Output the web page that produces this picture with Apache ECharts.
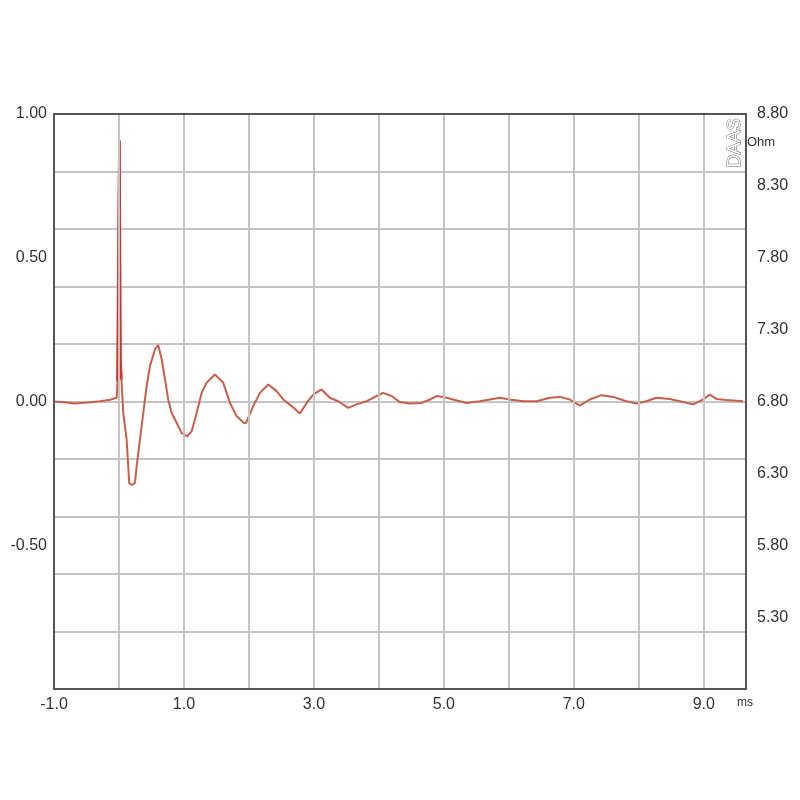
<!DOCTYPE html>
<html>
<head>
<meta charset="utf-8">
<script src="https://cdn.jsdelivr.net/npm/echarts@6/dist/echarts.min.js"></script>
<style>
html,body{margin:0;padding:0;background:#fff;}
#chart{width:800px;height:800px;}
</style>
</head>
<body>
<div id="chart"></div>
<script>
// time in ms
var timeMs = [-1.0,-0.831,-0.677,-0.446,-0.292,-0.138,-0.035,-0.023,0.0,0.008,0.023,0.038,0.066,0.118,0.158,0.2,0.246,0.272,0.323,0.374,0.426,0.477,0.554,0.605,0.657,0.708,0.758,0.811,0.888,0.965,1.051,1.118,1.195,1.272,1.349,1.477,1.605,1.708,1.811,1.923,1.954,2.066,2.169,2.297,2.426,2.528,2.657,2.785,2.888,2.989,3.118,3.246,3.374,3.528,3.657,3.811,3.912,4.066,4.195,4.323,4.477,4.657,4.785,4.888,4.989,5.143,5.349,5.554,5.708,5.862,6.015,6.22,6.426,6.631,6.785,6.938,7.092,7.246,7.426,7.605,7.811,7.965,8.118,8.272,8.477,8.682,8.835,8.989,9.092,9.195,9.349,9.605];
// amplitude
var amplitude = [0.0,-0.003,-0.007,-0.003,0.001,0.006,0.013,0.071,0.78,0.908,0.15,0.077,-0.04,-0.133,-0.285,-0.29,-0.283,-0.226,-0.133,-0.04,0.054,0.123,0.182,0.196,0.147,0.077,0.007,-0.04,-0.075,-0.11,-0.121,-0.104,-0.04,0.03,0.065,0.094,0.065,-0.005,-0.051,-0.075,-0.075,-0.016,0.03,0.059,0.036,0.007,-0.016,-0.042,-0.005,0.024,0.042,0.013,0.001,-0.022,-0.01,0.001,0.013,0.03,0.019,-0.002,-0.007,-0.005,0.007,0.019,0.016,0.007,-0.005,0.001,0.007,0.013,0.007,0.001,0.001,0.013,0.016,0.007,-0.014,0.007,0.022,0.016,0.001,-0.007,0.001,0.013,0.009,-0.002,-0.01,0.007,0.024,0.009,0.005,0.001];
var xTickLabels = ['-1.0','1.0','3.0','5.0','7.0','9.0'];
var leftTickLabels = ['0.50','-0.50','0.00','1.00'];
var rightTickLabels = ['5.30','5.80','6.30','6.80','7.30','7.80','8.30','8.80'];

var data = timeMs.map(function(t,i){return [t, amplitude[i]];});
var spikeData = data.filter(function(p){return p[0] >= -0.03 && p[0] <= 0.04;});
var font = "'Liberation Sans', Arial, sans-serif";
var frame = {show:true,onZero:false,lineStyle:{color:'#555',width:2}};
var chart = echarts.init(document.getElementById('chart'));
chart.setOption({
  animation:false,
  backgroundColor:'#ffffff',
  grid:{left:54,right:54,top:114,bottom:111,show:false},
  xAxis:[
    {type:'value',position:'bottom',min:-1,max:9.65,interval:1,z:5,
    axisLine:frame,axisTick:{show:false},
    splitLine:{show:true,lineStyle:{color:'#c4c4c4',width:2}},
    axisLabel:{color:'#333',fontSize:16,fontFamily:font,margin:8,showMaxLabel:false,
      formatter:function(v){var s=v.toFixed(1);return xTickLabels.indexOf(s)>=0?s:'';}}},
    {type:'value',position:'top',min:-1,max:9.65,interval:1,z:5,
     axisLine:frame,axisTick:{show:false},axisLabel:{show:false},splitLine:{show:false}}
  ],
  yAxis:[
    {type:'value',position:'left',min:-1,max:1,interval:0.5,z:5,
     axisLine:frame,axisTick:{show:false},splitLine:{show:false},
     axisLabel:{color:'#333',fontSize:16,fontFamily:font,margin:7,
       formatter:function(v){var s=v.toFixed(2);return leftTickLabels.indexOf(s)>=0?s:'';}}},
    {type:'value',position:'left',min:-1,max:1,interval:0.2,
     axisLine:{show:false},axisTick:{show:false},axisLabel:{show:false},
     splitLine:{show:true,lineStyle:{color:'#c4c4c4',width:2}}},
    {type:'value',position:'right',min:0,max:4,interval:0.5,z:5,
     axisLine:frame,axisTick:{show:false},splitLine:{show:false},
     axisLabel:{color:'#333',fontSize:16,fontFamily:font,margin:11,
       formatter:function(v){var s=(v+4.8).toFixed(2);return rightTickLabels.indexOf(s)>=0?s:'';}}}
  ],
  series:[
    {type:'line',data:data,xAxisIndex:0,yAxisIndex:0,showSymbol:false,symbol:'none',z:3,
     lineStyle:{width:2,color:'#c95f48'}},
    {type:'line',data:spikeData,xAxisIndex:0,yAxisIndex:0,showSymbol:false,symbol:'none',z:4,
     lineStyle:{width:2.5,color:'#d3332a'}}
  ],
  graphic:[
    {type:'text',left:726,top:118,rotation:Math.PI/2,originX:0,originY:0,z:10,
     style:{text:'DAAS',font:'18px '+font,fill:'#fff',stroke:'#666',lineWidth:1}},
    {type:'text',left:747,top:136,z:10,style:{text:'Ohm',font:'13px '+font,fill:'#333'}},
    {type:'text',left:737,top:697,z:10,style:{text:'ms',font:'12px '+font,fill:'#333'}}
  ]
});
</script>
</body>
</html>
